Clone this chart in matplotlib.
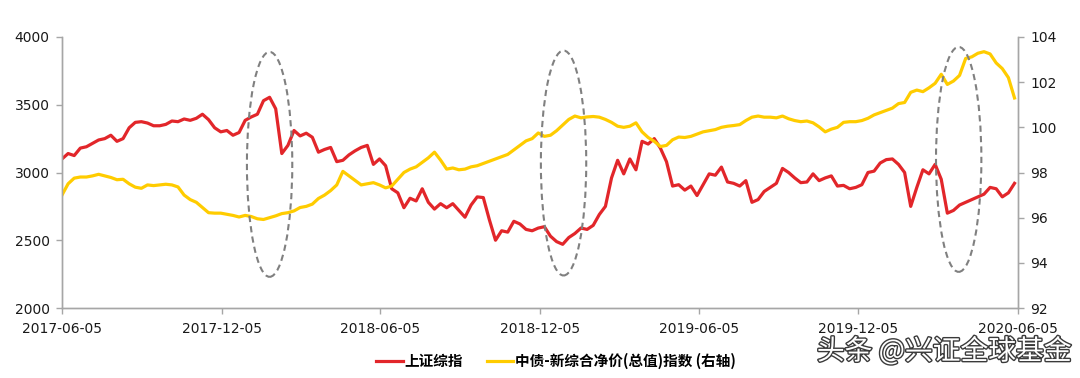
import pandas as pd
import matplotlib
matplotlib.use("Agg")
import matplotlib.pyplot as plt
import matplotlib.dates as mdates
import matplotlib.patheffects as pe
from matplotlib.patches import Ellipse

# weekly dates, 2017-06-05 .. 2020-06-01
dates = pd.date_range("2017-06-05", periods=157, freq="7D")

# 上证综指 (left axis)
sh_index = [
    3100, 3140, 3125, 3180, 3190, 3215, 3240, 3250, 3275, 3230,
    3250, 3330, 3370, 3375, 3365, 3345, 3345, 3355, 3380, 3375,
    3395, 3385, 3400, 3430, 3390, 3330, 3300, 3310, 3275, 3295,
    3385, 3410, 3430, 3530, 3555, 3470, 3140, 3200, 3310, 3270,
    3290, 3260, 3150, 3170, 3185, 3080, 3090, 3130, 3160, 3185,
    3200, 3060, 3100, 3050, 2880, 2850, 2740, 2810, 2790, 2880,
    2780, 2730, 2770, 2740, 2770, 2720, 2670, 2760, 2820, 2815,
    2650, 2500, 2570, 2560, 2640, 2620, 2580, 2570, 2590, 2600,
    2530, 2490, 2470, 2520, 2550, 2590, 2580, 2610, 2690, 2750,
    2960, 3090, 2990, 3100, 3020, 3230, 3210, 3250, 3180, 3080,
    2900, 2910, 2870, 2900, 2830, 2910, 2990, 2980, 3040, 2930,
    2920, 2900, 2940, 2780, 2800, 2860, 2890, 2920, 3030, 3000,
    2960, 2925, 2930, 2990, 2940, 2960, 2975, 2900, 2905, 2880,
    2890, 2910, 3000, 3010, 3070, 3095, 3100, 3060, 3000, 2750,
    2890, 3020, 2990, 3060, 2950, 2700, 2720, 2760, 2780, 2800,
    2820, 2840, 2890, 2880, 2820, 2850, 2920,
]

# 中债-新综合净价(总值)指数 (right axis)
bond_index = [
    97.00, 97.50, 97.75, 97.80, 97.80, 97.85, 97.92, 97.85, 97.78, 97.68,
    97.70, 97.50, 97.35, 97.30, 97.45, 97.42, 97.45, 97.48, 97.45, 97.36,
    97.00, 96.80, 96.68, 96.45, 96.22, 96.20, 96.20, 96.15, 96.10, 96.03,
    96.10, 96.05, 95.95, 95.92, 96.00, 96.08, 96.18, 96.22, 96.30, 96.45,
    96.50, 96.60, 96.85, 97.00, 97.20, 97.45, 98.05, 97.85, 97.65, 97.45,
    97.50, 97.55, 97.45, 97.32, 97.40, 97.70, 98.00, 98.15, 98.25, 98.45,
    98.65, 98.90, 98.55, 98.15, 98.20, 98.12, 98.15, 98.25, 98.30, 98.40,
    98.50, 98.60, 98.70, 98.80, 99.00, 99.20, 99.40, 99.50, 99.75, 99.60,
    99.65, 99.85, 100.10, 100.35, 100.50, 100.42, 100.46, 100.48, 100.45, 100.35,
    100.22, 100.05, 100.00, 100.05, 100.20, 99.80, 99.55, 99.38, 99.15, 99.20,
    99.45, 99.57, 99.55, 99.60, 99.70, 99.80, 99.85, 99.90, 100.00, 100.05,
    100.08, 100.12, 100.30, 100.45, 100.50, 100.45, 100.45, 100.42, 100.50, 100.38,
    100.30, 100.25, 100.28, 100.20, 100.02, 99.80, 99.92, 100.00, 100.22, 100.25,
    100.25, 100.30, 100.40, 100.55, 100.65, 100.75, 100.85, 101.05, 101.10, 101.55,
    101.65, 101.58, 101.75, 101.95, 102.35, 101.90, 102.05, 102.30, 103.05, 103.12,
    103.28, 103.35, 103.25, 102.85, 102.60, 102.20, 101.30,
]

tick_dates = ["2017-06-05", "2017-12-05", "2018-06-05", "2018-12-05",
              "2019-06-05", "2019-12-05", "2020-06-05"]

# dashed ellipses (centre date, centre on right axis)
ellipse_dates = ["2018-01-29", "2019-01-01", "2020-03-29"]
ellipse_y = [98.36, 98.42, 98.58]

red = "#E2262A"
yellow = "#FFCC00"
grey = "#A6A6A6"
cjk = ["Noto Sans CJK SC", "DejaVu Sans"]

fig = plt.figure(figsize=(10.8, 3.78), dpi=100)
ax = fig.add_axes([62 / 1080, 70 / 378, 956 / 1080, 271 / 378])
ax2 = ax.twinx()

ax.plot(dates, sh_index, color=red, lw=2.3, label="上证综指", zorder=2)
ax2.plot(dates, bond_index, color=yellow, lw=2.3, label="中债-新综合净价(总值)指数 (右轴)")

ax.set_xlim(pd.Timestamp("2017-06-05"), pd.Timestamp("2020-06-05"))
ax.set_ylim(2000, 4000)
ax2.set_ylim(92, 104)
ax.set_yticks(range(2000, 4001, 500))
ax2.set_yticks(range(92, 105, 2))
ax.set_xticks(pd.to_datetime(tick_dates))
ax.xaxis.set_major_formatter(mdates.DateFormatter("%Y-%m-%d"))

for a in (ax, ax2):
    a.spines["top"].set_visible(False)
    for s in ("left", "right", "bottom"):
        a.spines[s].set_color(grey)
        a.spines[s].set_linewidth(1.0)
    a.tick_params(colors=grey, labelcolor="#1a1a1a", labelsize=10, length=4, width=1.0)
ax.tick_params(axis="y", pad=5)
ax2.tick_params(axis="y", pad=5)
ax.tick_params(axis="x", pad=6)

for d, yc in zip(ellipse_dates, ellipse_y):
    e = Ellipse((mdates.date2num(pd.Timestamp(d)), yc), width=52, height=9.96,
                fill=False, edgecolor="#808080", lw=1.5, ls=(0, (3, 2)), zorder=5)
    ax2.add_patch(e)

h1, l1 = ax.get_legend_handles_labels()
h2, l2 = ax2.get_legend_handles_labels()
fig.legend(h1 + h2, l1 + l2, loc="center", bbox_to_anchor=(0.515, 0.045), ncol=2,
           frameon=False, prop={"family": cjk, "weight": "bold", "size": 10.5},
           handlelength=1.8, handletextpad=0.15, columnspacing=1.6)

fig.text(0.992, 0.07, "头条 @兴证全球基金", ha="right", va="center", fontsize=20,
         family=cjk, color="white",
         path_effects=[pe.withStroke(linewidth=2, foreground="#3a3a3a")])

fig.savefig("out.png", dpi=100)
